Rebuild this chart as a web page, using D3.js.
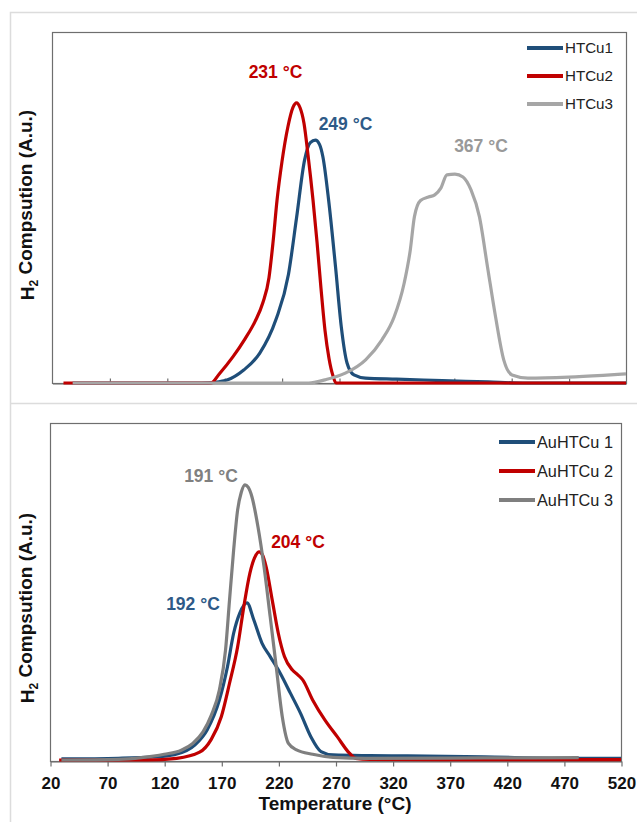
<!DOCTYPE html>
<html><head><meta charset="utf-8">
<script src="https://cdn.jsdelivr.net/npm/d3@7"></script>
<style>
body{margin:0;background:#fff}
svg{display:block}
text{font-family:"Liberation Sans",Arial,sans-serif}
</style>
</head><body>
<svg id="c" width="637" height="822"></svg>
<script>
// ---------------- DATA ----------------
const xTickValues = [20,70,120,170,220,270,320,370,420,470,520];

// Top panel (HTCu series): temperature (°C) and relative H2 consumption (a.u., 0-100 of panel height)
const htcu1Temp = [38,100,150,162,173,187,201,215,226,233,240,245,249.5,253,256,261,267,272,277,283,293,320,360,400,430,520];
const htcu1Val  = [0,0,0,0.2,0.9,3.7,8.5,18,31,47,63.5,68.5,69.2,68,64.4,52,33,16,5.7,2.3,1.4,1.1,0.7,0.3,0,0];

const htcu2Temp = [30,100,158.5,165.5,177.7,188,196.8,203.8,209,212.5,216,220.3,225.5,229.9,233,236,239.5,243,247.4,250.9,254.3,257.8,261.3,264.8,267.4,520];
const htcu2Val  = [0,0,0,2.5,7.5,12.5,17.5,23,30,40,52,63,73,78.5,79.8,78.5,74,65,52,40,27,15,7,2,0,0];

const htcu3Temp = [38,150,243.6,257.8,275.5,293.2,307.4,318,326.8,332.1,335.7,341,348,353.4,358.7,364,371,378,385,392.3,399.4,406.4,413.5,420.7,434.6,470,500,520];
const htcu3Val  = [0,0,0,0.9,2.8,6.6,12.3,18.8,28.5,37.9,47.4,52,53,53.6,55.5,59.3,59.5,58.7,55,47.4,33,18.8,6.6,2.3,1.4,1.7,2.2,2.6];

// Bottom panel (AuHTCu series)
const au1Temp = [30,80,110,129,147,157.6,168.3,175.4,180.8,186.1,192.5,198.5,205.7,212.8,221.7,230.6,239.4,248.4,257.3,267.9,300,331.7,400,474,520];
const au1Val  = [0.6,0.8,1.2,1.9,4.8,9.2,18,27.9,37.8,43.7,46.8,41.7,34.8,30.9,25.9,20,14.1,7.2,2.8,1.8,1.6,1.5,1.2,0.8,0.8];

const au2Temp = [28,80,105,131,151,161.2,170,177.2,184.3,189.7,195,199,203.2,206,209.2,214.6,219.9,225.3,232.3,237,241.3,250.1,260.8,271.5,282.2,287.5,300,400,520];
const au2Val  = [0.3,0.3,0.3,0.8,2.6,6.4,13.1,23,33.8,45.6,55.5,60,61.9,61,57.5,47.6,37.8,30.9,26.9,25.5,24,18,12.1,7.2,2.3,0.8,0.5,0.4,0.4];

const au3Temp = [30,80,100,120,135,145,154,161.2,168.3,173.7,177.2,180.8,184.3,187.5,190.7,193.5,196.8,202.1,207.4,212.8,218.1,223.4,228.8,235.9,250,267.9,296.4,400,483];
const au3Val  = [0.3,0.5,1,2,3.2,5.2,8.6,13.5,21,32.8,47.6,62.4,74.3,79.5,81.7,81,78.2,69.3,57.5,42.7,27.9,13.1,5.2,3.3,2,1.1,0.8,0.9,1];

const topNames = ["HTCu1","HTCu2","HTCu3"];
const botNames = ["AuHTCu 1","AuHTCu 2","AuHTCu 3"];
const topPeakLabels = ["249 °C","231 °C","367 °C"];
const botPeakLabels = ["192 °C","204 °C","191 °C"];

// ---------------- STYLE / LAYOUT ----------------
const BLUE = "#1f4e79", RED = "#c00000", LGRAY = "#a6a6a6", DGRAY = "#7f7f7f";
const svg = d3.select("#c");

// outer frames (screenshot panels)
svg.append("path").attr("d","M637,12.5 H10.5 V822").attr("fill","none").attr("stroke","#dcdcdc").attr("stroke-width",1.5);
svg.append("line").attr("x1",10.5).attr("x2",637).attr("y1",403.5).attr("y2",403.5).attr("stroke","#dcdcdc").attr("stroke-width",1.5);

function panel(opts){
  const {left,right,top,bottom,series,legendX,legendY,legendGap,legendFont,legendWidth,showLabels,ticksInside,annots,yTitleY} = opts;
  const x = d3.scaleLinear().domain([20,520]).range([left,right]);
  const y = d3.scaleLinear().domain([0,100]).range([bottom,top]);
  const g = svg.append("g");

  // plot frame
  g.append("rect").attr("x",left+0.5).attr("y",top+0.5).attr("width",right-left).attr("height",bottom-top)
    .attr("fill","none").attr("stroke","#6e6e6e").attr("stroke-width",1.2);

  // x axis
  const ax = d3.axisBottom(x).tickValues(showLabels ? xTickValues : xTickValues.slice(1,-1))
     .tickSizeOuter(0);
  if (ticksInside) ax.tickSizeInner(-5).tickFormat("");
  else ax.tickSizeInner(5).tickPadding(10).tickFormat(d3.format("d"));
  const axg = g.append("g").attr("transform",`translate(0.5,${bottom+0.5})`).call(ax);
  axg.select(".domain").attr("stroke","#6e6e6e").attr("stroke-width",1.2);
  axg.selectAll(".tick line").attr("stroke","#6e6e6e").attr("stroke-width",1.2);
  axg.selectAll(".tick text").style("font-size","17px").attr("font-weight","bold").attr("fill","#111");

  // lines
  const line = d3.line().x(d=>x(d[0])).y(d=>y(d[1])).curve(d3.curveMonotoneX);
  series.forEach(s=>{
    g.append("path").datum(d3.zip(s.t,s.v)).attr("d",line)
      .attr("fill","none").attr("stroke",s.color).attr("stroke-width",3.2)
      .attr("stroke-linejoin","round").attr("stroke-linecap","butt");
  });

  // legend
  const legTexts = [];
  series.forEach((s,i)=>{
    const ly = legendY + i*legendGap;
    g.append("line").attr("x1",legendX).attr("x2",legendX+36).attr("y1",ly).attr("y2",ly)
      .attr("stroke",s.color).attr("stroke-width",4);
    legTexts.push(g.append("text").attr("x",legendX+38).attr("y",ly).attr("dy","0.36em")
      .style("font-size",legendFont+"px").attr("fill","#222").text(s.name));
  });
  // fit legend text size to the width it takes in the reference
  const w0 = legTexts[0].node().getComputedTextLength();
  if (w0 > 0) {
    const fs = Math.max(12, Math.min(20, legendFont * legendWidth / w0));
    legTexts.forEach(t=>t.style("font-size",fs+"px"));
  }

  // peak annotations
  annots.forEach(a=>{
    g.append("text").attr("x",a.x).attr("y",a.y).attr("text-anchor","middle")
      .style("font-size","17.5px").attr("font-weight","bold").attr("fill",a.color).text(a.text);
  });

  // y title
  const yt = g.append("text").attr("transform",`translate(34,${yTitleY}) rotate(-90)`)
    .attr("text-anchor","middle").style("font-size","19px").attr("font-weight","bold").attr("fill","#111");
  yt.append("tspan").text("H");
  yt.append("tspan").style("font-size","12px").attr("dy","0.3em").text("2");
  yt.append("tspan").attr("dy","-0.3em").text(" Compsution (A.u.)");
  return {x,y};
}

panel({
  left:52,right:626,top:32,bottom:383,
  series:[
    {t:htcu1Temp,v:htcu1Val,color:BLUE,name:topNames[0]},
    {t:htcu2Temp,v:htcu2Val,color:RED,name:topNames[1]},
    {t:htcu3Temp,v:htcu3Val,color:LGRAY,name:topNames[2]}
  ],
  legendX:527,legendY:48,legendGap:28,legendFont:15,legendWidth:48,showLabels:false,ticksInside:true,
  annots:[
    {x:275.5,y:78,text:topPeakLabels[1],color:RED},
    {x:345.5,y:130,text:topPeakLabels[0],color:"#2e5a87"},
    {x:481,y:152,text:topPeakLabels[2],color:"#999999"}
  ],
  yTitleY:205
});

panel({
  left:50,right:621,top:423,bottom:761,
  series:[
    {t:au1Temp,v:au1Val,color:BLUE,name:botNames[0]},
    {t:au2Temp,v:au2Val,color:RED,name:botNames[1]},
    {t:au3Temp,v:au3Val,color:DGRAY,name:botNames[2]}
  ],
  legendX:499,legendY:442,legendGap:29,legendFont:16,legendWidth:76,showLabels:true,ticksInside:false,
  annots:[
    {x:211,y:482,text:botPeakLabels[2],color:"#808080"},
    {x:298,y:548,text:botPeakLabels[1],color:RED},
    {x:193,y:610,text:botPeakLabels[0],color:"#2e5a87"}
  ],
  yTitleY:608
});

svg.append("text").attr("x",335).attr("y",810).attr("text-anchor","middle")
  .style("font-size","19px").attr("font-weight","bold").attr("fill","#111").text("Temperature (°C)");
</script>
</body></html>
